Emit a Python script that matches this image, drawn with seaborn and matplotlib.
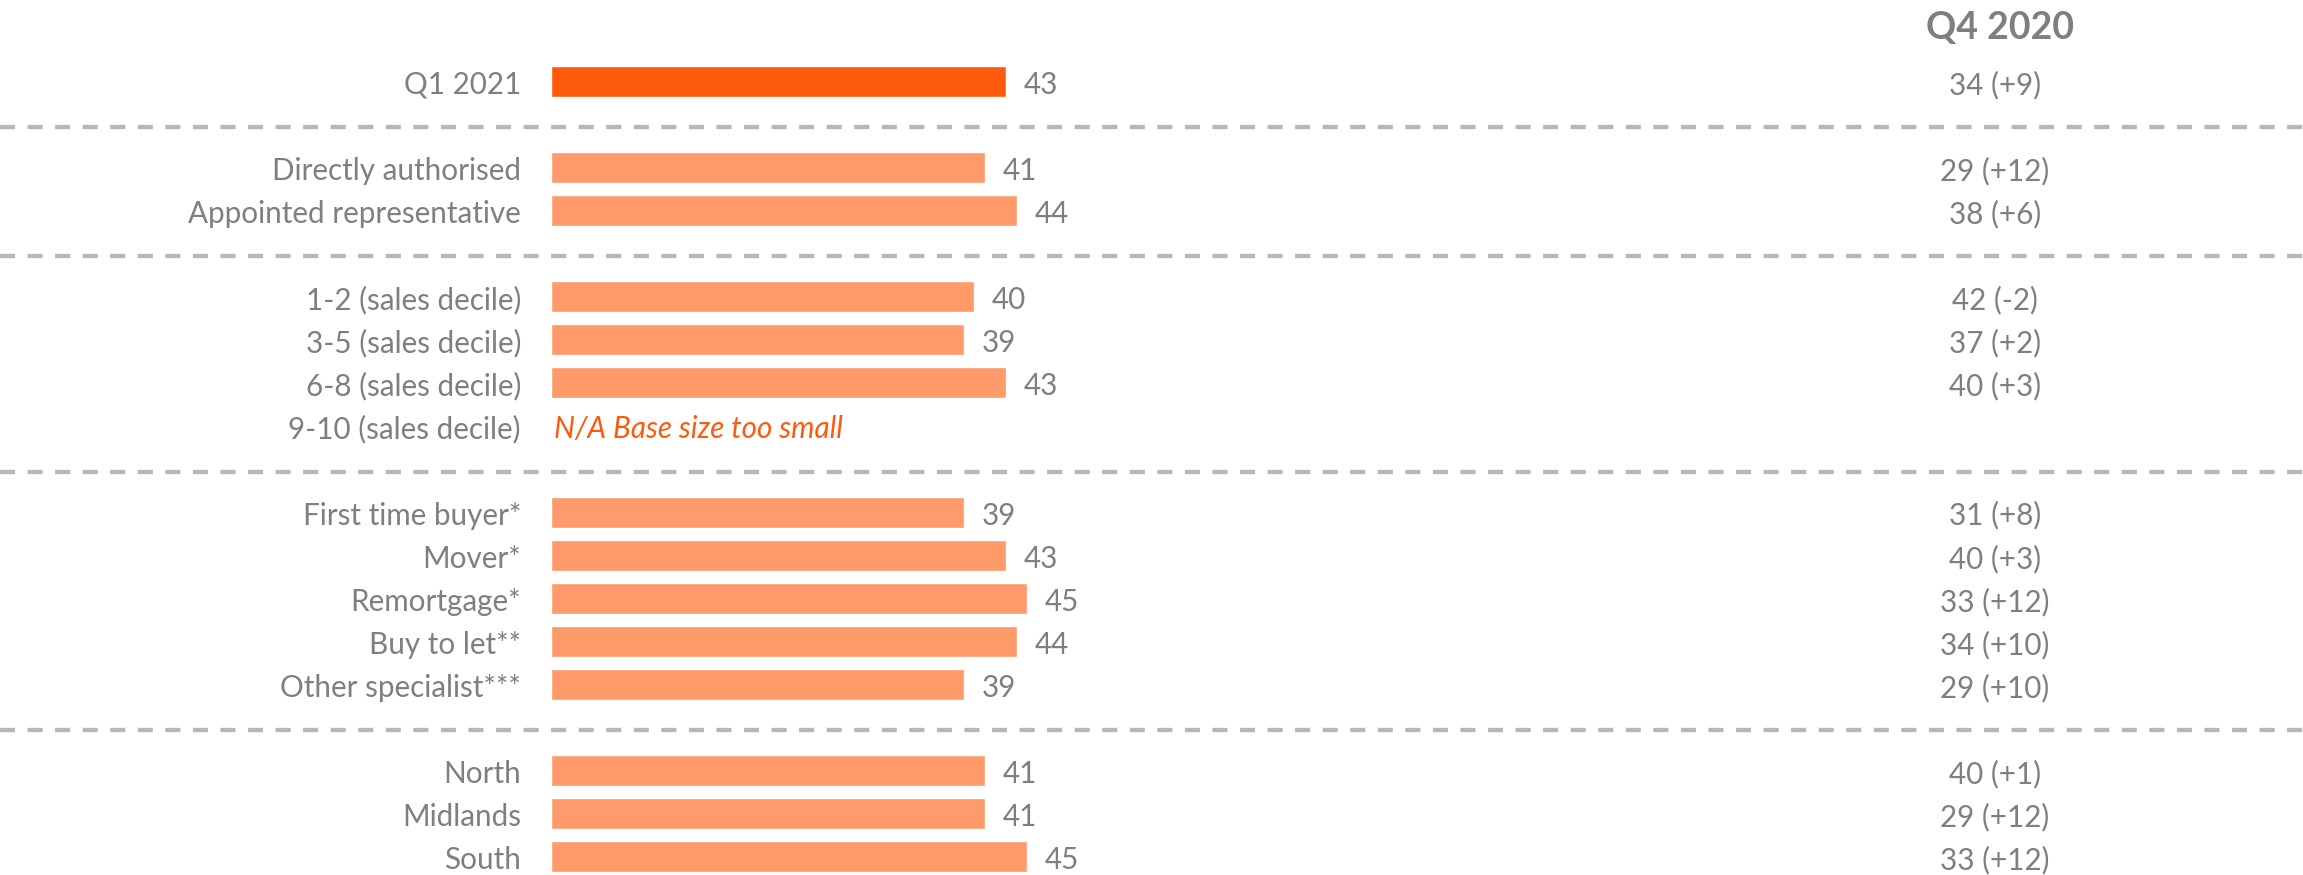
import matplotlib
matplotlib.use("Agg")
import matplotlib.pyplot as plt
import matplotlib.transforms as mtransforms
import numpy as np
import pandas as pd
import seaborn as sns

# Segments, grouped in the order they are shown
groups = [
    ["Q1 2021"],
    ["Directly authorised", "Appointed representative"],
    ["1-2 (sales decile)", "3-5 (sales decile)", "6-8 (sales decile)", "9-10 (sales decile)"],
    ["First time buyer*", "Mover*", "Remortgage*", "Buy to let**", "Other specialist***"],
    ["North", "Midlands", "South"],
]
q1_2021 = [43, 41, 44, 40, 39, 43, np.nan, 39, 43, 45, 44, 39, 41, 41, 45]
q4_2020 = [34, 29, 38, 42, 37, 40, np.nan, 31, 40, 33, 34, 29, 40, 29, 33]
total_label = "Q1 2021"
compare_title = "Q4 2020"
missing_note = "N/A Base size too small"

segments = [s for g in groups for s in g]
df = pd.DataFrame({"segment": segments, "q1": q1_2021, "q4": q4_2020})
df["change"] = df["q1"] - df["q4"]

# Category order with a blank slot between groups (used for the dashed separators)
order, gap_slots = [], []
for i, g in enumerate(groups):
    if i > 0:
        gap_slots.append(len(order))
        order.append(" " * i)
    order.extend(g)

TEXT = "#7F7F7F"
DARK = "#FE5A0B"
LIGHT = "#FF9A6A"
palette = {s: (DARK if s == total_label else LIGHT) for s in segments}
FS = 21.3

sns.set_style("white")
plt.rcParams["font.family"] = ["Lato", "DejaVu Sans"]

W, H, DPI = 2303, 876, 100
fig = plt.figure(figsize=(W / DPI, (H - 0.01) / DPI), dpi=DPI)
left = 551 / W
ax = fig.add_axes([left, 0, 1 - left, 1])

plot_df = df.dropna(subset=["q1"])
sns.barplot(data=plot_df, x="q1", y="segment", order=order, hue="segment",
            palette=palette, legend=False, width=0.72, saturation=1,
            orient="h", ax=ax)

px_per_unit = 10.58
ax.set_xlim(0, (W - 551) / px_per_unit)
row_px = 43.08
top_px = 82.3
ax.set_ylim((H - top_px) / row_px, -top_px / row_px)

ax.set_xticks([])
ax.set_xlabel("")
ax.set_ylabel("")
ax.tick_params(axis="y", length=0, pad=21.6, labelsize=FS, labelcolor=TEXT)
sns.despine(ax=ax, left=True, bottom=True)

# Dashed separators across the full width, sitting just below each blank slot
x0 = -left / (1 - left)
for p in gap_slots:
    ax.axhline(p + 0.06, xmin=x0, xmax=1, clip_on=False, color="#B7B7B7",
               lw=3.1, dashes=(3.5, 2.9))

# Value labels and comparison column
col_tf = mtransforms.blended_transform_factory(fig.transFigure, ax.transData)
col_x = 1995 / W
for _, r in df.iterrows():
    pos = order.index(r["segment"])
    if np.isnan(r["q1"]):
        ax.text(0.3, pos, missing_note, style="italic", color=DARK,
                fontsize=FS, va="center_baseline", ha="left")
        continue
    ax.text(r["q1"] + 1.7, pos, f"{r['q1']:.0f}", color=TEXT, fontsize=FS,
            va="center_baseline", ha="left")
    ax.text(col_x, pos, f"{r['q4']:.0f} ({r['change']:+.0f})", color=TEXT,
            fontsize=FS, va="center_baseline", ha="center", transform=col_tf)

ax.text(col_x + 0.002, -1.33, compare_title, color=TEXT, fontsize=27,
        fontweight="bold", va="center_baseline", ha="center", transform=col_tf)

fig.savefig("out.png", dpi=DPI)
